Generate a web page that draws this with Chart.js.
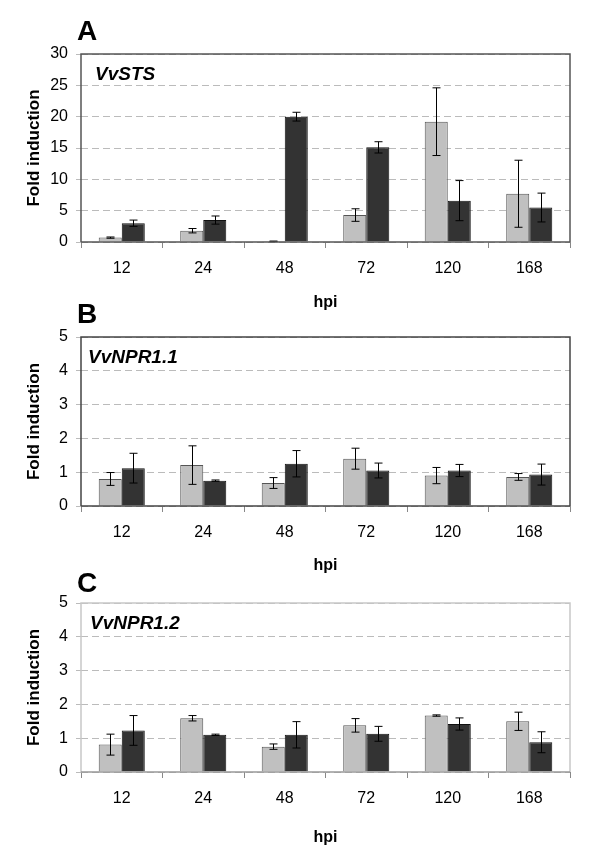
<!DOCTYPE html>
<html>
<head>
<meta charset="utf-8">
<script src="https://cdn.jsdelivr.net/npm/chart.js@4.4.0/dist/chart.umd.min.js"></script>
<style>
body { margin: 0; background: #fff; }
.panel { position: absolute; left: 0; width: 600px; }
</style>
</head>
<body>
<div class="panel" style="top:0px"><canvas id="chartA" width="600" height="320"></canvas></div>
<div class="panel" style="top:280px"><canvas id="chartB" width="600" height="300"></canvas></div>
<div class="panel" style="top:555px"><canvas id="chartC" width="600" height="300"></canvas></div>
<script>
// time points (hours post inoculation)
var hpi = ['12', '24', '48', '72', '120', '168'];

// A - VvSTS
var stsLight = [0.7, 1.8, 0.1, 4.3, 19.2, 7.7];
var stsLightErr = [0.1, 0.35, 0.05, 1.0, 5.4, 5.35];
var stsDark = [3.0, 3.5, 20.0, 15.1, 6.6, 5.5];
var stsDarkErr = [0.5, 0.65, 0.7, 0.9, 3.2, 2.3];
var stsTicks = [0, 5, 10, 15, 20, 25, 30];

// B - VvNPR1.1
var npr11Light = [0.8, 1.21, 0.68, 1.4, 0.9, 0.86];
var npr11LightErr = [0.19, 0.57, 0.16, 0.31, 0.24, 0.1];
var npr11Dark = [1.12, 0.75, 1.25, 1.05, 1.05, 0.93];
var npr11DarkErr = [0.44, 0.02, 0.39, 0.22, 0.18, 0.31];

// C - VvNPR1.2
var npr12Light = [0.81, 1.59, 0.75, 1.38, 1.67, 1.5];
var npr12LightErr = [0.31, 0.08, 0.08, 0.2, 0.02, 0.27];
var npr12Dark = [1.23, 1.1, 1.1, 1.13, 1.42, 0.88];
var npr12DarkErr = [0.44, 0.02, 0.39, 0.22, 0.18, 0.31];
var nprTicks = [0, 1, 2, 3, 4, 5];

var FONT = '"Liberation Sans", Arial, sans-serif';

// panel letter, gene name, frame and error bars
var deco = {
    id: 'deco',
    afterDatasetsDraw: function (chart, args, o) {
        var ctx = chart.ctx;
        var a = chart.chartArea;
        var ys = chart.scales.y;
        ctx.save();
        // error bars
        ctx.strokeStyle = '#000';
        ctx.lineWidth = 1;
        chart.data.datasets.forEach(function (ds, di) {
            var meta = chart.getDatasetMeta(di);
            meta.data.forEach(function (bar, i) {
                var v = ds.data[i], e = ds.err[i];
                var yTop = ys.getPixelForValue(v + e);
                var yBot = ys.getPixelForValue(Math.max(v - e, 0));
                var x = Math.round(bar.x) + 0.5;
                ctx.beginPath();
                ctx.moveTo(x, yTop); ctx.lineTo(x, yBot);
                ctx.moveTo(x - 4, yTop); ctx.lineTo(x + 4, yTop);
                ctx.moveTo(x - 4, yBot); ctx.lineTo(x + 4, yBot);
                ctx.stroke();
            });
        });
        // frame
        ctx.lineWidth = 1.5;
        ctx.strokeStyle = o.frame;
        ctx.beginPath();
        ctx.moveTo(a.left, a.bottom); ctx.lineTo(a.left, a.top);
        ctx.lineTo(a.right, a.top); ctx.lineTo(a.right, a.bottom);
        ctx.stroke();
        ctx.strokeStyle = o.axis;
        ctx.beginPath();
        ctx.moveTo(a.left, a.bottom); ctx.lineTo(a.right, a.bottom);
        ctx.stroke();
        // texts
        ctx.fillStyle = '#000';
        ctx.textBaseline = 'alphabetic';
        ctx.textAlign = 'left';
        ctx.font = 'bold 28px ' + FONT;
        ctx.fillText(o.letter, 77, o.letterBase);
        ctx.font = 'italic bold 19px ' + FONT;
        ctx.fillText(o.gene, a.left + o.geneDx, a.top + 26);
        ctx.restore();
    }
};

function makePanel(id, light, lightErr, dark, darkErr, ticks, p) {
    var H = document.getElementById(id).height;
    return new Chart(document.getElementById(id), {
        type: 'bar',
        data: {
            labels: hpi,
            datasets: [
                {data: light, err: lightErr, backgroundColor: '#c0c0c0', borderColor: '#555', borderWidth: 1},
                {data: dark, err: darkErr, backgroundColor: '#333333', borderColor: '#111', borderWidth: 1}
            ]
        },
        options: {
            responsive: false,
            animation: false,
            categoryPercentage: 0.565,
            barPercentage: 1.0,
            layout: {padding: {top: p.top, right: 30, left: 0, bottom: 0}},
            plugins: {
                legend: {display: false},
                tooltip: {enabled: false},
                deco: {letter: p.letter, letterBase: p.letterBase, gene: p.gene, geneDx: p.geneDx, frame: p.frame, axis: p.axis}
            },
            scales: {
                x: {
                    afterFit: function (s) { s.height = H - p.bottom; },
                    grid: {offset: true, drawOnChartArea: false, tickLength: 6, color: '#888'},
                    border: {display: false},
                    ticks: {color: '#000', padding: 11, font: {family: FONT, size: 16}},
                    title: {display: true, text: 'hpi', color: '#000', padding: {top: 0, bottom: p.hpiPad}, font: {family: FONT, size: 16, weight: 'bold'}}
                },
                y: {
                    min: ticks[0],
                    max: ticks[ticks.length - 1],
                    afterFit: function (s) { s.width = 81; },
                    afterBuildTicks: function (s) { s.ticks = ticks.map(function (v) { return {value: v}; }); },
                    grid: {color: '#bbb', tickLength: 5},
                    border: {display: false, dash: [7, 4]},
                    ticks: {color: '#000', padding: 8, font: {family: FONT, size: 16}},
                    title: {display: true, text: 'Fold induction', color: '#000', padding: {top: 24, bottom: 0}, font: {family: FONT, size: 17, weight: 'bold'}}
                }
            }
        },
        plugins: [deco]
    });
}

makePanel('chartA', stsLight, stsLightErr, stsDark, stsDarkErr, stsTicks,
    {top: 54, bottom: 242, hpiPad: 8, letter: 'A', letterBase: 40, gene: 'VvSTS', geneDx: 14, frame: '#555', axis: '#555'});
makePanel('chartB', npr11Light, npr11LightErr, npr11Dark, npr11DarkErr, nprTicks,
    {top: 57, bottom: 226, hpiPad: 5, letter: 'B', letterBase: 43, gene: 'VvNPR1.1', geneDx: 7, frame: '#444', axis: '#444'});
makePanel('chartC', npr12Light, npr12LightErr, npr12Dark, npr12DarkErr, nprTicks,
    {top: 48, bottom: 217, hpiPad: 8, letter: 'C', letterBase: 37, gene: 'VvNPR1.2', geneDx: 9, frame: '#c8c8c8', axis: '#999'});
</script>
</body>
</html>
